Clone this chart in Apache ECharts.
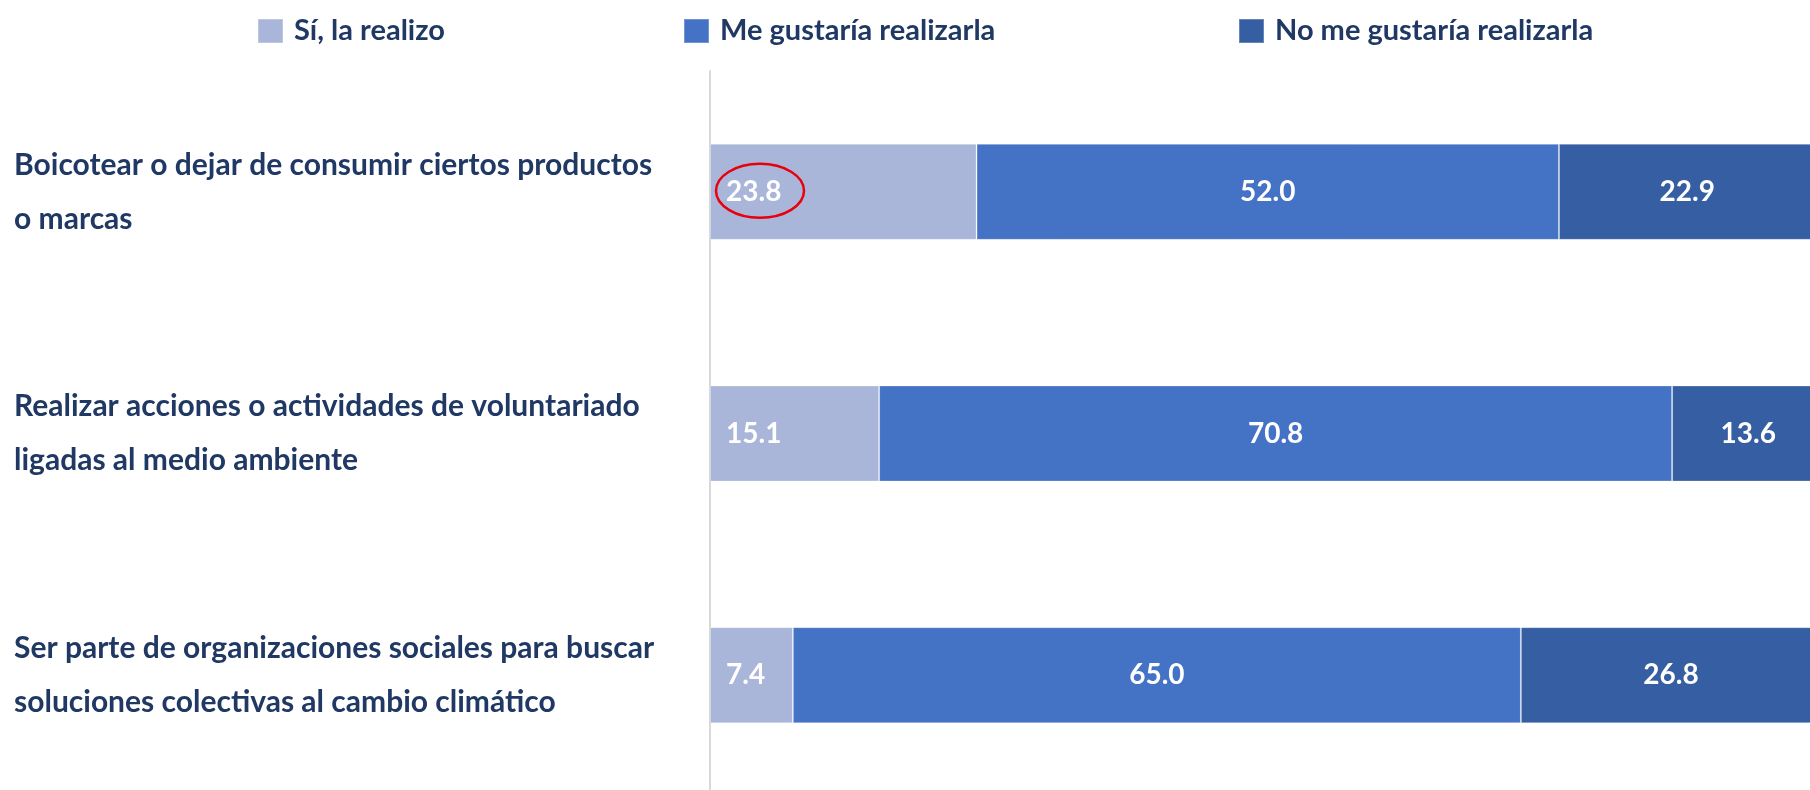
<!DOCTYPE html>
<html>
<head>
<meta charset="utf-8">
<script src="https://cdn.jsdelivr.net/npm/echarts@6/dist/echarts.min.js"></script>
<style>
    html, body { margin: 0; padding: 0; background: #ffffff; }
    #chart { width: 1810px; height: 790px; }
</style>
</head>
<body>
<div id="chart"></div>
<script>
// categories, top to bottom
const categories = [
    "Boicotear o dejar de consumir ciertos productos\no marcas",
    "Realizar acciones o actividades de voluntariado\nligadas al medio ambiente",
    "Ser parte de organizaciones sociales para buscar\nsoluciones colectivas al cambio climático"
];

const seriesNames = ["Sí, la realizo", "Me gustaría realizarla", "No me gustaría realizarla"];

const siRealizo = [23.8, 15.1, 7.4];
const meGustaria = [52.0, 70.8, 65.0];
const noMeGustaria = [22.9, 13.6, 26.8];

const colors = ["#a9b6da", "#4472c4", "#365ea2"];
const textColor = "#203864";
const fontName = "Lato";

// the circled value in the reference
const highlighted = { series: 0, index: 0 };

var chart = echarts.init(document.getElementById("chart"));

function makeLegend(i, left) {
    // text box sticks out 14px above the square, so top is 14px less
    return {
        data: [seriesNames[i]],
        left: left,
        top: 5,
        padding: 0,
        orient: "horizontal",
        icon: "rect",
        itemWidth: 25,
        itemHeight: 24,
        selectedMode: false,
        textStyle: {
            color: textColor,
            fontFamily: fontName,
            fontWeight: "bold",
            fontSize: 29,
            lineHeight: 30,
            padding: [0, 0, 22, 6]
        }
    };
}

function makeSeries(i, values, labelPos) {
    return {
        name: seriesNames[i],
        type: "bar",
        stack: "total",
        barWidth: 96,
        data: values,
        itemStyle: {
            color: colors[i],
            borderColor: "rgba(255,255,255,0.25)",
            borderWidth: 1
        },
        label: {
            show: true,
            position: labelPos,
            distance: 16,
            color: "#ffffff",
            fontFamily: fontName,
            fontWeight: "bold",
            fontSize: 28,
            formatter: function (p) { return p.value.toFixed(1); }
        },
        emphasis: { disabled: true }
    };
}

var option = {
    animation: false,
    backgroundColor: "#ffffff",
    color: colors,
    legend: [makeLegend(0, 257), makeLegend(1, 683), makeLegend(2, 1238)],
    grid: {
        left: 710,
        right: -20,
        top: 71,
        bottom: -6,
        containLabel: false,
        outerBoundsMode: "none"
    },
    xAxis: {
        type: "value",
        min: 0,
        max: 100,
        show: false
    },
    yAxis: {
        type: "category",
        inverse: true,
        data: categories,
        axisLine: { show: true, lineStyle: { color: "#d9d9d9", width: 2 } },
        axisTick: { show: false },
        splitLine: { show: false },
        axisLabel: {
            align: "left",
            margin: 696,
            color: textColor,
            fontFamily: fontName,
            fontWeight: "bold",
            fontSize: 30,
            lineHeight: 54,
            padding: [0, 0, 26, 0]
        }
    },
    series: [
        makeSeries(0, siRealizo, "insideLeft"),
        makeSeries(1, meGustaria, "inside"),
        makeSeries(2, noMeGustaria, "inside")
    ]
};

chart.setOption(option);

// red ellipse round the highlighted label, placed from the axis scales
let p0 = chart.convertToPixel({ gridIndex: 0 }, [0, highlighted.index]);
chart.setOption({
    graphic: [{
        type: "ellipse",
        shape: { cx: p0[0] + 50, cy: p0[1] - 1, rx: 44, ry: 27 },
        style: { fill: "none", stroke: "#e8000b", lineWidth: 2.5 },
        silent: true,
        z: 100
    }]
});
</script>
</body>
</html>
